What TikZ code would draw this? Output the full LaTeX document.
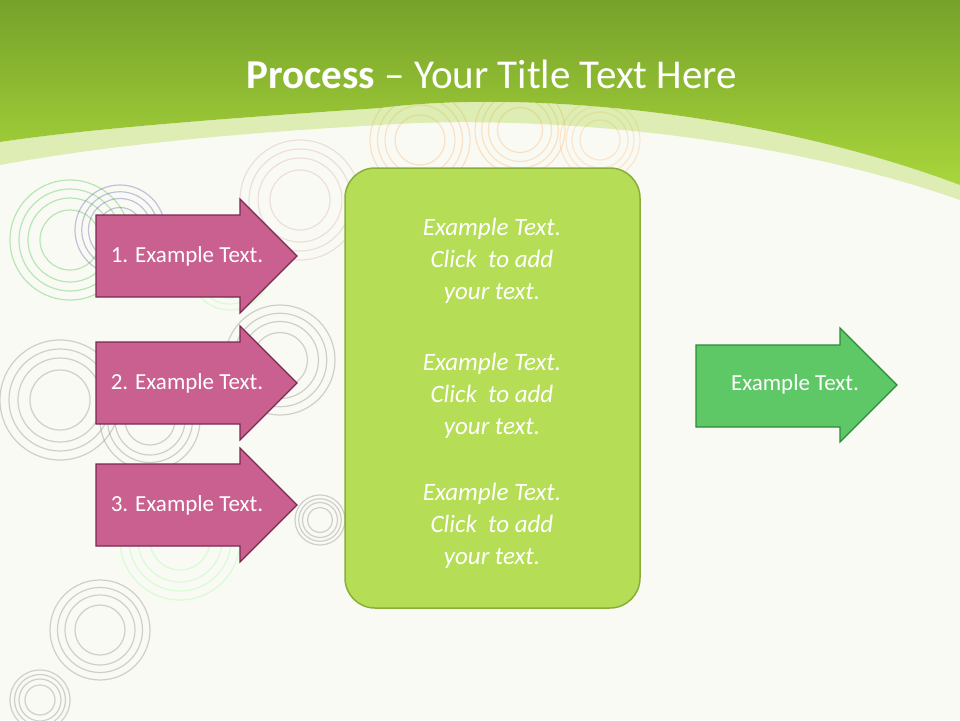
\documentclass[tikz,border=0pt]{standalone}
\usepackage{fontspec}
\setmainfont{Carlito}
\begin{document}
\begin{tikzpicture}[x=1pt,y=-1pt,
  pinkarr/.style={fill=pinkf,draw=pinkd,line width=1.2pt},
  greenarr/.style={fill=greenf,draw=greend,line width=1.2pt},
  lbl/.style={text=white,font=\fontsize{23}{26}\selectfont},
  body/.style={text=white,font=\itshape\fontsize{25}{32}\selectfont,align=center},
  swirl/.style={line width=1.2pt,opacity=0.35}]
\definecolor{pinkf}{HTML}{C9608F}\definecolor{pinkd}{HTML}{7A2A50}
\definecolor{greenf}{HTML}{5EC766}\definecolor{greend}{HTML}{2E8A3A}
\definecolor{boxf}{HTML}{B5DD55}\definecolor{boxd}{HTML}{8AAE3A}
\definecolor{bg}{HTML}{F9FAF4}
\definecolor{hdrtop}{HTML}{76A22A}\definecolor{hdrbot}{HTML}{A9D63B}
\useasboundingbox (0,0) rectangle (960,720);
\fill[bg] (0,0) rectangle (960,720);
% swirls
\foreach \cx/\cy/\r/\c in {70/240/60/green!50!gray,120/230/45/blue!30!gray,60/400/60/gray,150/420/50/gray,280/360/55/gray,300/200/60/pink!70!gray,420/140/50/orange!60,520/130/45/orange!60,600/140/40/orange!50,100/630/50/gray,320/520/25/gray,180/540/60/green!40,40/700/30/gray,230/270/40/green!40}{
  \foreach \k in {0.5,0.7,0.85,1}{\draw[swirl,\c] (\cx,\cy) circle ({\r*\k});}}
% header
\shade[top color=hdrtop,bottom color=hdrbot] (0,0) -- (960,0) -- (960,185) .. controls (760,110) and (520,90) .. (380,108) .. controls (200,120) and (80,130) .. (0,142) -- cycle;
\fill[hdrbot,opacity=0.35] (0,142) .. controls (80,130) and (200,120) .. (380,108) .. controls (520,90) and (760,110) .. (960,185) -- (960,200) .. controls (760,130) and (520,115) .. (380,125) .. controls (200,135) and (80,150) .. (0,165) -- cycle;
\node[text=white,font=\fontsize{41}{46}\selectfont] (title) at (492,74) {\textbf{Process} -- Your Title Text Here};
% pink arrows
\foreach \i/\cy/\t in {1/256/1. Example Text.,2/383/2. Example Text.,3/505/3. Example Text.}{
  \draw[pinkarr] (96,\cy-41) -- (240,\cy-41) -- (240,\cy-57) -- (297,\cy) -- (240,\cy+57) -- (240,\cy+41) -- (96,\cy+41) -- cycle;
  \node[lbl] (p\i) at (187,\cy) {\t};}
% box
\draw[fill=boxf,draw=boxd,line width=1.5pt,rounded corners=30pt] (345,168) rectangle (640,608);
\node[body] (b1) at (492,261) {Example Text.\\Click\ \ to add\\your text.};
\node[body] (b2) at (492,396) {Example Text.\\Click\ \ to add\\your text.};
\node[body] (b3) at (492,526) {Example Text.\\Click\ \ to add\\your text.};
% green arrow
\draw[greenarr] (696,345) -- (840,345) -- (840,328) -- (897,385) -- (840,442) -- (840,427) -- (696,427) -- cycle;
\node[lbl] (g) at (795,384) {Example Text.};
\end{tikzpicture}
\end{document}
